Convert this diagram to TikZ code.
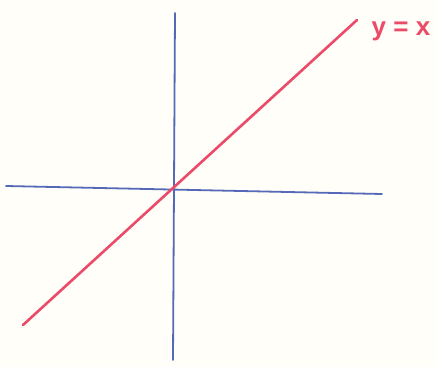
\documentclass[tikz,border=0pt]{standalone}
\usepackage{fontspec}
\setmainfont{Liberation Sans}
\definecolor{axisblue}{RGB}{85,105,185}
\definecolor{penred}{RGB}{235,75,105}
\definecolor{paper}{RGB}{255,254,248}
\begin{document}
\begin{tikzpicture}[x=1pt,y=-1pt,
  axis/.style={draw=axisblue,line width=1.8pt,line cap=round},
  graphline/.style={draw=penred,line width=2.6pt,line cap=round},
  lbl/.style={text=penred,font=\bfseries\fontsize{26}{28}\selectfont,inner sep=0pt}]
\fill[paper] (0,0) rectangle (437,367);
\useasboundingbox (0,0) rectangle (437,367);
\coordinate (xl) at (6,186);
\coordinate (xr) at (382,194);
\coordinate (yt) at (175,13);
\coordinate (yb) at (173,360);
\coordinate (rl) at (23,325);
\coordinate (rr) at (357,20);
\draw[axis] (xl) -- (xr);
\draw[axis] (yt) -- (yb);
\draw[graphline] (rl) -- (rr);
\node[lbl] (label) at (401,31) {y = x};
\end{tikzpicture}
\end{document}
